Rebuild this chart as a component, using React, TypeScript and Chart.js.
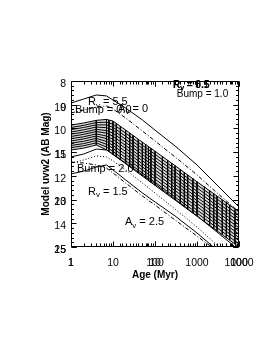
import React, { useEffect, useRef } from 'react';
import { Chart, registerables } from 'chart.js';

Chart.register(...registerables);

// Ages (Myr) at which the model curves are sampled
const AGES = [1, 2, 4, 7, 10, 20, 50, 100, 300, 1000, 3000, 10000];

// Dense band of model tracks (uvw2 AB mag)
const BAND_1 = [9.86, 9.77, 9.66, 9.62, 9.69, 10.07, 10.58, 10.96, 11.57, 12.25, 12.85, 13.52];
const BAND_2 = [9.96, 9.87, 9.75, 9.74, 9.82, 10.2, 10.71, 11.09, 11.7, 12.38, 12.98, 13.65];
const BAND_3 = [10.05, 9.96, 9.85, 9.85, 9.95, 10.33, 10.84, 11.22, 11.83, 12.51, 13.12, 13.79];
const BAND_4 = [10.15, 10.06, 9.94, 9.97, 10.07, 10.46, 10.97, 11.35, 11.97, 12.65, 13.25, 13.92];
const BAND_5 = [10.24, 10.16, 10.04, 10.09, 10.2, 10.59, 11.1, 11.48, 12.1, 12.78, 13.38, 14.06];
const BAND_6 = [10.34, 10.25, 10.13, 10.2, 10.33, 10.72, 11.23, 11.61, 12.23, 12.91, 13.52, 14.19];
const BAND_7 = [10.43, 10.35, 10.23, 10.32, 10.46, 10.84, 11.36, 11.75, 12.36, 13.04, 13.65, 14.33];
const BAND_8 = [10.53, 10.44, 10.32, 10.43, 10.59, 10.97, 11.49, 11.88, 12.49, 13.17, 13.79, 14.46];
const BAND_9 = [10.62, 10.54, 10.42, 10.55, 10.72, 11.1, 11.62, 12.01, 12.62, 13.3, 13.92, 14.6];
const BAND_10 = [10.72, 10.64, 10.51, 10.67, 10.84, 11.23, 11.75, 12.14, 12.76, 13.44, 14.05, 14.73];
const BAND_11 = [10.81, 10.73, 10.61, 10.78, 10.97, 11.36, 11.88, 12.27, 12.89, 13.57, 14.19, 14.87];
const BAND_12 = [10.91, 10.83, 10.7, 10.9, 11.1, 11.49, 12.01, 12.4, 13.02, 13.7, 14.32, 15.0];

// Extra age samples where the band's vertical hatch strokes are drawn
const HATCH_AGES = [8, 12, 15, 25, 30, 40, 60, 70, 80, 150, 200, 250, 400, 500, 600, 800, 1500, 2000, 2500, 4000, 5000, 6000, 8000];
const HATCH_TOP = [9.65, 9.79, 9.91, 10.19, 10.29, 10.45, 10.68, 10.77, 10.84, 11.19, 11.34, 11.47, 11.73, 11.85, 11.96, 12.11, 12.46, 12.62, 12.74, 13.01, 13.12, 13.24, 13.42];
const HATCH_BOTTOM = [10.97, 11.2, 11.33, 11.62, 11.72, 11.88, 12.11, 12.2, 12.28, 12.63, 12.79, 12.92, 13.19, 13.31, 13.41, 13.57, 13.93, 14.09, 14.22, 14.48, 14.61, 14.71, 14.87];

// Individual tracks outside the band
const UPPER_SOLID = [8.93, 8.76, 8.59, 8.63, 8.8, 9.14, 9.64, 10.07, 10.74, 11.54, 12.39, 13.31];
const UPPER_DASHDOT = [9.35, 9.22, 9.1, 9.05, 9.18, 9.56, 10.11, 10.53, 11.2, 11.96, 12.72, 13.52];
const LOWER_SOLID_1 = [11.2, 11.08, 10.87, 10.91, 11.08, 11.46, 11.96, 12.34, 12.98, 13.69, 14.37, 15.13];
const LOWER_DOTTED = [11.46, 11.33, 11.16, 11.2, 11.37, 11.75, 12.3, 12.72, 13.4, 14.16, 14.92, 15.63];
const LOWER_SOLID_2 = [11.92, 11.8, 11.63, 11.54, 11.75, 12.17, 12.72, 13.1, 13.69, 14.41, 15.13, 15.89];
const LOWER_DASHDOT = [11.42, 11.46, 11.54, 11.67, 11.88, 12.3, 12.85, 13.23, 13.86, 14.54, 15.17, 15.97];

// Tick ranges of the two overlaid axes
const Y_RANGE = [8, 15];
const Y2_RANGE = [7.5, 25];
const X_RANGE = [1, 10000];
const X2_RANGE = [1, 100];

// In-plot annotations: text, age, magnitude
const LABEL_TEXTS = ['R_v = 5.5', 'Bump = 0.0', 'A_v = 0', 'Bump = 2.0', 'R_v = 1.5', 'A_v = 2.5', 'R_v = 3.1', 'R_v = 0.5', 'Bump = 1.0'];
const LABEL_AGES = [2.54, 1.25, 13.2, 1.39, 2.54, 19.3, 268, 268, 330];
const LABEL_MAGS = [8.89, 9.22, 9.18, 11.71, 12.68, 13.95, 8.17, 8.17, 8.55];
const LABEL_SIZES = [11, 11, 11, 11, 11, 11, 10, 10, 10];
const LABEL_BOLD = [false, false, false, false, false, false, false, true, false];

const FONT = '"Liberation Sans", Arial, Helvetica, sans-serif';
const BANDS = [BAND_1, BAND_2, BAND_3, BAND_4, BAND_5, BAND_6, BAND_7, BAND_8, BAND_9, BAND_10, BAND_11, BAND_12];

const isDecade = (v: number) => Math.abs(Math.log10(v) - Math.round(Math.log10(v))) < 1e-6;

function drawRich(ctx: CanvasRenderingContext2D, text: string, x: number, y: number, size: number, bold: boolean) {
  const parts = text.split(/_(.)/);
  let cx = x;
  parts.forEach((p, i) => {
    const sub = i % 2 === 1;
    const s = sub ? size * 0.72 : size;
    ctx.font = `${bold ? 'bold ' : ''}${s}px ${FONT}`;
    ctx.fillText(p, cx, y + (sub ? size * 0.3 : 0));
    cx += ctx.measureText(p).width;
  });
}

const framePlugin = {
  id: 'frameTicks',
  afterDraw(chart: any) {
    const { ctx, chartArea: a, scales } = chart;
    const L = Math.round(a.left) + 0.5, R = Math.round(a.right) - 0.5;
    const T = Math.round(a.top) + 0.5, B = Math.round(a.bottom) - 0.5;
    ctx.save();
    ctx.strokeStyle = '#000';
    ctx.lineWidth = 1;
    ctx.beginPath();
    ctx.rect(L, T, R - L, B - T);
    const xTicks = (sc: any) => {
      sc.ticks.forEach((t: any) => {
        const p = Math.round(sc.getPixelForValue(t.value)) + 0.5;
        const len = isDecade(t.value) ? 5 : 3;
        ctx.moveTo(p, B); ctx.lineTo(p, B - len);
        ctx.moveTo(p, T); ctx.lineTo(p, T + len);
      });
    };
    xTicks(scales.x);
    xTicks(scales.x2);
    const yTicks = (sc: any, lo: number, hi: number, step: number, every: number) => {
      const n = Math.round((hi - lo) / step);
      for (let k = 0; k <= n; k++) {
        const v = lo + k * step;
        const p = Math.round(sc.getPixelForValue(v)) + 0.5;
        const len = Math.abs(v / every - Math.round(v / every)) < 1e-6 ? 5 : 2.5;
        ctx.moveTo(L, p); ctx.lineTo(L + len, p);
        ctx.moveTo(R, p); ctx.lineTo(R - len, p);
      }
    };
    yTicks(scales.y, Y_RANGE[0], Y_RANGE[1], 0.2, 1);
    yTicks(scales.y2, 8, 25, 1, 5);
    ctx.stroke();

    ctx.fillStyle = '#000';
    ctx.textBaseline = 'middle';
    ctx.textAlign = 'left';
    LABEL_TEXTS.forEach((t, i) => {
      const x = scales.x.getPixelForValue(LABEL_AGES[i]);
      const y = scales.y.getPixelForValue(LABEL_MAGS[i]);
      drawRich(ctx, t, x, y, LABEL_SIZES[i], LABEL_BOLD[i]);
    });
    ctx.restore();
  },
};

export default function App() {
  const ref = useRef<HTMLCanvasElement | null>(null);

  useEffect(() => {
    if (!ref.current) return;
    const line = (vals: number[], dash: number[], extra: any = {}) => ({
      data: AGES.map((a, i) => ({ x: a, y: vals[i] })),
      borderColor: '#000',
      borderWidth: 1,
      borderDash: dash,
      pointRadius: 0,
      fill: false,
      tension: 0,
      xAxisID: 'x',
      yAxisID: 'y',
      ...extra,
    });
    const stroke = (age: number, top: number, bottom: number) => ({
      data: [{ x: age, y: top }, { x: age, y: bottom }],
      borderColor: '#000', borderWidth: 1, pointRadius: 0, fill: false,
      xAxisID: 'x', yAxisID: 'y',
    });

    const datasets: any[] = [];
    BANDS.forEach((b, i) =>
      datasets.push(
        line(b, [], i === 0 ? { fill: '+11', backgroundColor: 'rgba(0,0,0,0.16)' } : {})
      )
    );
    AGES.forEach((a, i) => {
      if (i >= 2) datasets.push(stroke(a, BAND_1[i], BAND_12[i]));
    });
    HATCH_AGES.forEach((a, i) => datasets.push(stroke(a, HATCH_TOP[i], HATCH_BOTTOM[i])));
    datasets.push(line(UPPER_SOLID, []));
    datasets.push(line(UPPER_DASHDOT, [4, 2, 1, 2]));
    datasets.push(line(LOWER_SOLID_1, []));
    datasets.push(line(LOWER_DOTTED, [1, 2]));
    datasets.push(line(LOWER_SOLID_2, []));
    datasets.push(line(LOWER_DASHDOT, [4, 2, 1, 2]));

    const tickFont = { family: FONT, size: 10.5 };
    const titleFont = { family: FONT, size: 10, weight: 'bold' as const };
    const hidden = { display: false, drawTicks: false };
    const noClip = (s: any) => { s._computeLabelArea = () => undefined; };

    const chart = new Chart(ref.current, {
      type: 'line',
      data: { datasets },
      plugins: [framePlugin],
      options: {
        animation: false,
        responsive: false,
        devicePixelRatio: 1,
        layout: { padding: { left: 0, right: 34, top: 81, bottom: 0 } },
        plugins: { legend: { display: false }, tooltip: { enabled: false } },
        scales: {
          x: {
            type: 'logarithmic', position: 'bottom', min: X_RANGE[0], max: X_RANGE[1], weight: 0,
            afterFit: (s: any) => { s.height = 106; },
            grid: hidden, border: { display: false },
            ticks: { autoSkip: false, maxRotation: 0, padding: 10, color: '#000', font: tickFont,
              callback: (v: any) => (isDecade(Number(v)) ? String(v) : '') },
            title: { display: true, text: 'Age (Myr)', color: '#000', font: titleFont, padding: { top: 0, bottom: 72 } },
          },
          x2: {
            type: 'logarithmic', position: 'bottom', min: X2_RANGE[0], max: X2_RANGE[1], weight: -1,
            afterFit: (s: any) => { s.height = 0; noClip(s); },
            grid: hidden, border: { display: false },
            ticks: { autoSkip: false, maxRotation: 0, padding: 10, color: '#000', font: tickFont,
              callback: (v: any) => (isDecade(Number(v)) ? String(v) : '') },
          },
          y: {
            type: 'linear', position: 'left', reverse: true, min: Y_RANGE[0], max: Y_RANGE[1], weight: 0,
            afterFit: (s: any) => { s.width = 71; },
            grid: hidden, border: { display: false },
            ticks: { stepSize: 1, padding: 5, labelOffset: 3, color: '#000', font: tickFont },
            title: { display: true, text: 'Model uvw2 (AB Mag)', color: '#000', font: titleFont, padding: { top: 40, bottom: 0 } },
          },
          y2: {
            type: 'linear', position: 'left', reverse: true, min: Y2_RANGE[0], max: Y2_RANGE[1], weight: -1,
            afterFit: (s: any) => { s.width = 0; noClip(s); },
            afterBuildTicks: (s: any) => { s.ticks = s.ticks.filter((t: any) => t.value % 5 === 0); },
            grid: hidden, border: { display: false },
            ticks: { stepSize: 5, padding: 5, labelOffset: 3, autoSkip: false, color: '#000', font: tickFont },
          },
        },
      } as any,
    });
    return () => chart.destroy();
  }, []);

  return (
    <div style={{ position: 'absolute', left: 0, top: 0, width: 273, height: 353, background: '#fff' }}>
      <canvas ref={ref} width={273} height={353} style={{ display: 'block' }} />
    </div>
  );
}
